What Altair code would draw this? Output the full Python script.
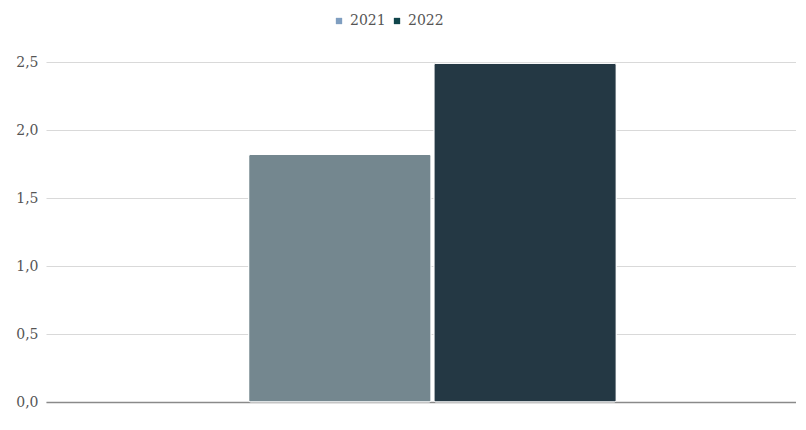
import altair as alt
import pandas as pd

years = ["2021", "2022"]
values = [1.82, 2.49]
bar_colors = ["#74878f", "#243844"]
legend_colors = ["#7f9ec0", "#10454b"]

df = pd.DataFrame({"year": years, "value": values, "group": ["A", "A"]})

FONT = "DejaVu Serif"

x_enc = alt.X("group:N", title=None,
              scale=alt.Scale(paddingInner=0, paddingOuter=0.52, align=0.53),
              axis=alt.Axis(labels=False, ticks=False, domain=True, domainColor="#8a8a8a",
                            domainWidth=1.5, grid=False))
xo_enc = alt.XOffset("year:N", scale=alt.Scale(paddingInner=0.015, paddingOuter=0))
y_enc = alt.Y("value:Q", title=None,
              scale=alt.Scale(domain=[0, 2.5], nice=False),
              axis=alt.Axis(values=[0, 0.5, 1.0, 1.5, 2.0, 2.5],
                            labelExpr="replace(format(datum.value, '.1f'), '.', ',')",
                            ticks=False, domain=False, grid=True, gridColor="#d9d9d9",
                            labelFont=FONT, labelFontSize=14, labelColor="#555555",
                            labelPadding=8))

bars = alt.Chart(df).mark_bar(stroke="#ffffff", strokeWidth=1, cornerRadius=2).encode(
    x=x_enc, xOffset=xo_enc, y=y_enc,
    color=alt.Color("year:N", scale=alt.Scale(domain=years, range=bar_colors), legend=None),
)

legend_layer = alt.Chart(df).mark_bar(opacity=0).encode(
    x=x_enc, xOffset=xo_enc, y=y_enc,
    color=alt.Color("year:N", scale=alt.Scale(domain=years, range=legend_colors),
                    legend=alt.Legend(title=None, orient="none", legendX=286, legendY=-48,
                                      direction="horizontal", symbolType="square",
                                      symbolSize=40, symbolStrokeWidth=0, symbolOpacity=1,
                                      labelFont=FONT, labelFontSize=14, labelColor="#555555",
                                      columnPadding=4, labelOffset=4)),
)

chart = alt.layer(bars, legend_layer).resolve_scale(color="independent").properties(
    width=750, height=340,
    padding={"left": 7, "top": 6, "right": 0, "bottom": 0},
).configure_view(stroke=None)

chart.save("out.html", embed_options={"renderer": "svg", "actions": False})
